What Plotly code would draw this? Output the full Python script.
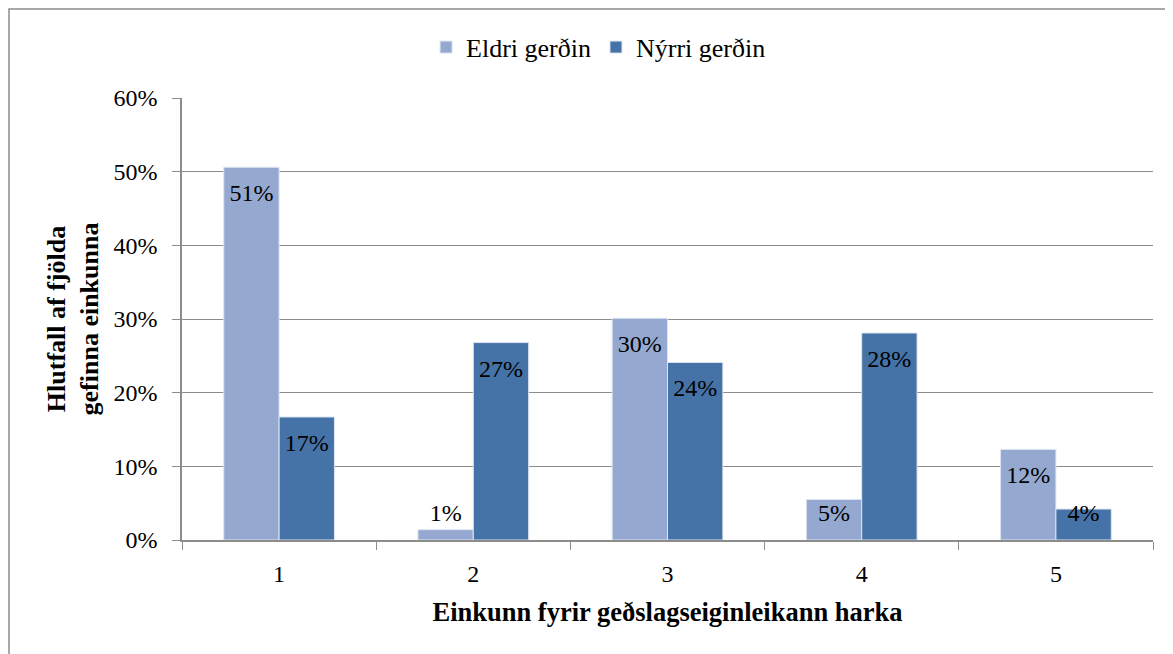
import numpy as np
import plotly.graph_objects as go

# data (percent)
categories = ['1', '2', '3', '4', '5']
eldri = [50.6, 1.4, 30.1, 5.5, 12.3]
nyrri = [16.7, 26.8, 24.1, 28.1, 4.2]
eldri_labels = ['51%', '1%', '30%', '5%', '12%']
nyrri_labels = ['17%', '27%', '24%', '28%', '4%']

FONT = 'Times New Roman'
C_ELDRI = '#95A9D0'
C_NYRRI = '#4673A7'
GRID = '#8C8C8C'


def label_pos(vals):
    # labels sit just inside the bar top, pushed up for very short bars
    v = np.array(vals)
    return np.maximum(v - 3.8, 3.4)


fig = go.Figure()

fig.add_trace(go.Bar(x=categories, y=eldri, name='Eldri gerðin',
                     marker=dict(color=C_ELDRI, line=dict(color='#DCE4F0', width=1))))
fig.add_trace(go.Bar(x=categories, y=nyrri, name='Nýrri gerðin',
                     marker=dict(color=C_NYRRI, line=dict(color='#DCE4F0', width=1))))

fig.add_trace(go.Scatter(x=categories, y=label_pos(eldri), text=eldri_labels,
                         mode='text', textposition='middle center',
                         textfont=dict(family=FONT, size=24, color='black'),
                         showlegend=False, hoverinfo='skip'))
fig.add_trace(go.Scatter(x=categories, y=label_pos(nyrri), text=nyrri_labels,
                         mode='text', textposition='middle center',
                         textfont=dict(family=FONT, size=24, color='black'),
                         showlegend=False, hoverinfo='skip'))

fig.update_layout(
    width=1165, height=646,
    margin=dict(l=174, r=20, t=90, b=114, autoexpand=False),
    paper_bgcolor='white', plot_bgcolor='white',
    font=dict(family=FONT, size=24, color='black'),
    barmode='group', bargap=0.43, bargroupgap=0,
    scattermode='group', scattergap=0.43,
    legend=dict(orientation='h', x=0.429, xanchor='center', y=1.115, yanchor='middle',
                font=dict(size=26), itemwidth=30, traceorder='normal'),
    xaxis=dict(type='category', tickson='boundaries', ticks='outside', ticklen=8,
               tickcolor=GRID, showline=True, linecolor=GRID, linewidth=1.5,
               showgrid=False, tickfont=dict(size=24), ticklabelstandoff=11,
               title=dict(text='<b>Einkunn fyrir geðslagseiginleikann harka</b>',
                          font=dict(size=26.5), standoff=17)),
    yaxis=dict(range=[0, 60], dtick=10, ticksuffix='%', ticks='outside', ticklen=8,
               tickcolor=GRID, showline=True, linecolor=GRID, linewidth=1.5,
               showgrid=True, gridcolor=GRID, gridwidth=1.2, zeroline=False,
               tickfont=dict(size=24), ticklabelstandoff=10,
               title=dict(text='<b>Hlutfall af fjölda<br>gefinna einkunna</b>',
                          font=dict(size=26), standoff=7)),
    shapes=[dict(type='rect', xref='paper', yref='paper',
                 x0=-173 / 971, x1=1.1, y0=-1.3, y1=1 + 89 / 442,
                 line=dict(color='#8C8C8C', width=1.5), fillcolor='rgba(0,0,0,0)')],
)

fig.write_html('out.html')
